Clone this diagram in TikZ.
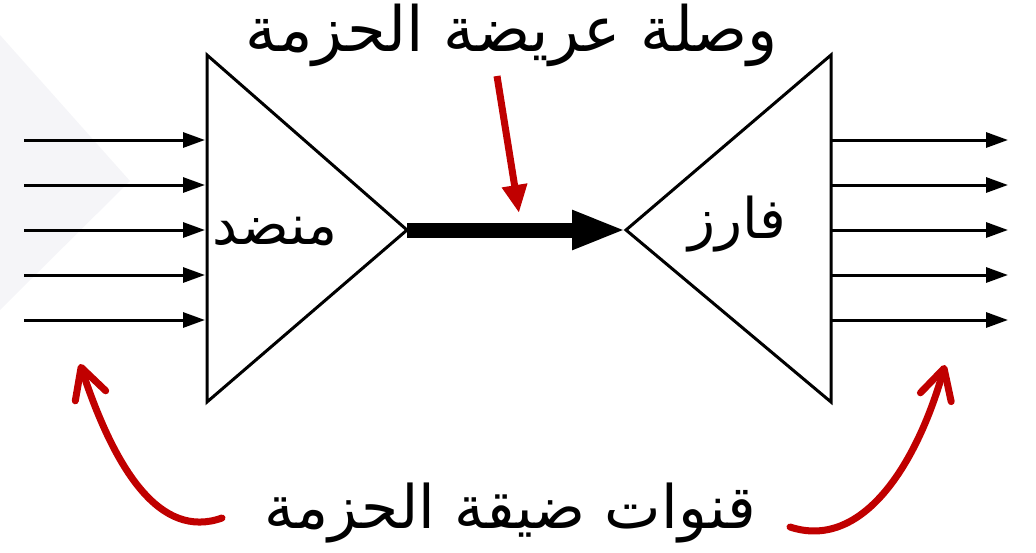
\documentclass[tikz,border=0pt]{standalone}
\usepackage{fontspec}
\usetikzlibrary{arrows.meta}
\newfontfamily\arabicfont[Script=Arabic]{DejaVu Sans}
\TeXXeTstate=1
\definecolor{darkred}{RGB}{192,0,0}
\definecolor{wm}{RGB}{245,245,248}
\begin{document}
\begin{tikzpicture}[x=1pt,y=-1pt,
  chan/.style={line width=3pt,-{Triangle[length=22pt,width=15pt]}},
  box/.style={line width=3pt,line join=miter},
  wide/.style={line width=15pt,-{Triangle[length=54pt,width=36pt]}},
  redarrow/.style={draw=darkred,line width=7pt,-{Triangle[length=28pt,width=24pt]}},
  redcurve/.style={draw=darkred,line width=7pt,line cap=round,-{Straight Barb[length=30pt,width=32pt,round]}},
  lbl/.style={font=\fontsize{60}{64}\selectfont\arabicfont, inner sep=0pt},
  tlbl/.style={font=\fontsize{62.5}{66}\selectfont\arabicfont, inner sep=0pt},
  slbl/.style={font=\fontsize{56}{60}\selectfont\arabicfont, inner sep=0pt}
]
\useasboundingbox (0,0) rectangle (1036,552);
% faint watermark
\fill[wm] (0,35) -- (130,181) -- (0,310) -- cycle;
% compressor
\coordinate (cTL) at (207,55);
\coordinate (cBL) at (207,402);
\coordinate (cA) at (407,230);
\draw[box] (cTL) -- (cA) -- (cBL) -- cycle;
% decompressor
\coordinate (dTR) at (831,55);
\coordinate (dBR) at (831,402);
\coordinate (dA) at (626,230);
\draw[box] (dTR) -- (dA) -- (dBR) -- cycle;
% channels
\foreach \y [count=\i] in {140,185,230,275,320} {
  \coordinate (in\i) at (24,\y);
  \coordinate (cin\i) at (205,\y);
  \draw[chan] (in\i) -- (cin\i);
  \coordinate (dout\i) at (831,\y);
  \coordinate (out\i) at (1008,\y);
  \draw[chan] (dout\i) -- (out\i);
}
% wide link
\draw[wide] (cA) -- (dA);
% labels
\node[tlbl] (top) at (512,35) {\beginR وصلة عريضة الحزمة\endR};
\node[slbl] (comp) at (275,232) {\beginR منضد\endR};
\node[slbl] (decomp) at (737,224) {\beginR فارز\endR};
\node[lbl] (bottom) at (510,513) {\beginR قنوات ضيقة الحزمة\endR};
% red arrows
\coordinate (rs) at (497,76);
\coordinate (re) at (519,213);
\draw[redarrow] (rs) -- (re);
\coordinate (ls) at (222,518);
\coordinate (le) at (80,364);
\draw[redcurve] (ls) .. controls (160,540) and (115,470) .. (le);
\coordinate (rcs) at (790,527);
\coordinate (rce) at (945,365);
\draw[redcurve] (rcs) .. controls (860,550) and (915,470) .. (rce);
\end{tikzpicture}
\end{document}
